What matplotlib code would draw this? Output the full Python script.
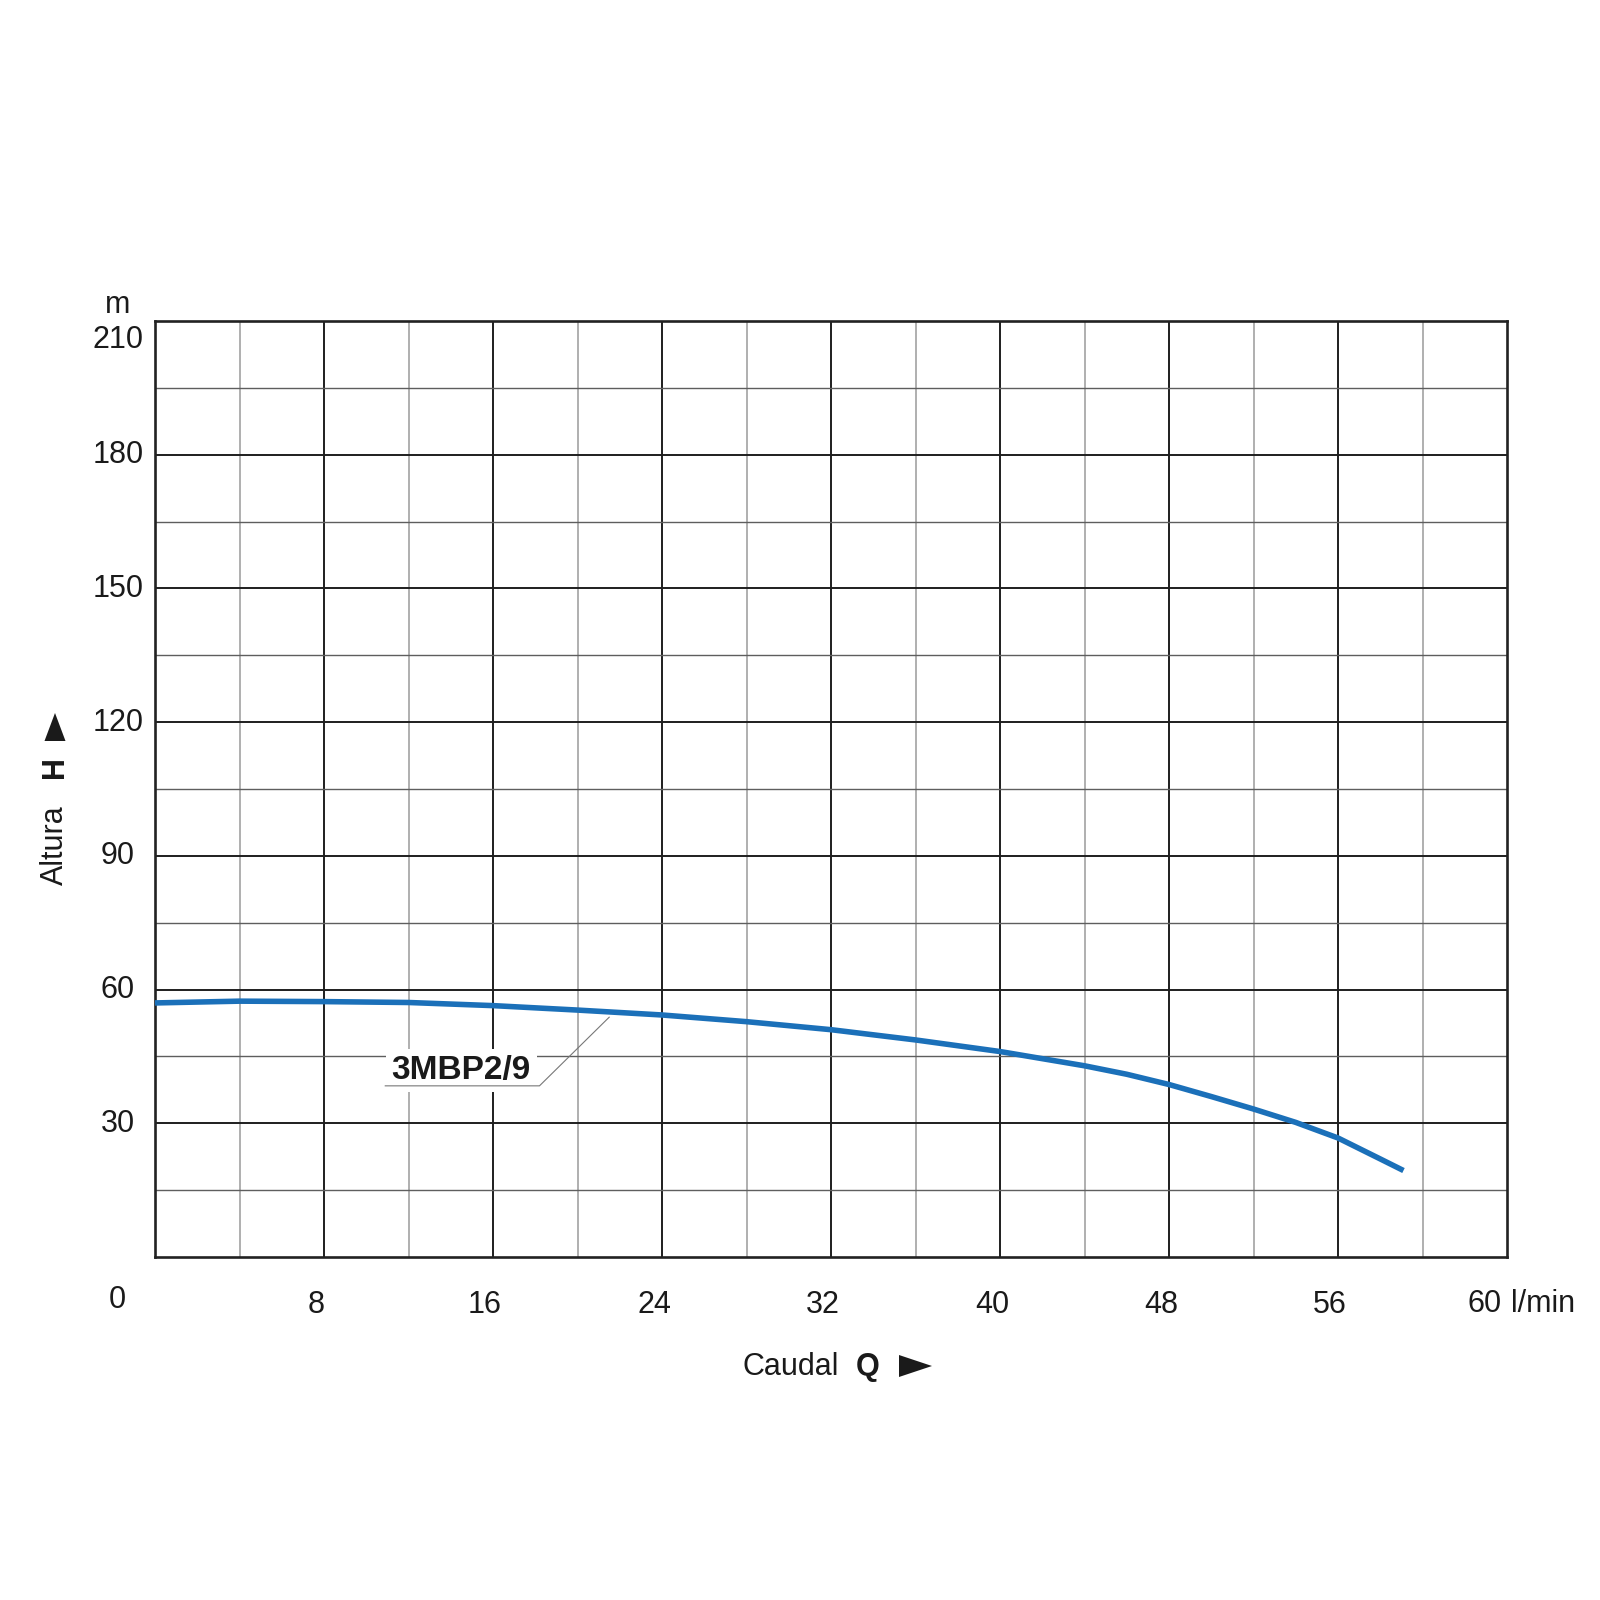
import matplotlib
matplotlib.use("Agg")
import matplotlib.pyplot as plt
from matplotlib.patches import Polygon
from matplotlib.transforms import ScaledTranslation

# ---- data ----
flow_q = [0, 4, 8, 12, 16, 20, 24, 28, 32, 36, 40, 44, 46, 48, 50, 52, 54, 56, 58, 59.1]
head_h = [57.0, 57.4, 57.3, 57.1, 56.4, 55.4, 54.3, 52.8, 51.0, 48.7, 46.1, 42.9, 41.0,
          38.7, 36.0, 33.2, 30.2, 26.7, 22.0, 19.4]
curve_name = "3MBP2/9"

x_ticks = [8, 16, 24, 32, 40, 48, 56]
x_tick_labels = ["8", "16", "24", "32", "40", "48", "56"]
x_end_label = "60"
x_unit = "l/min"
y_ticks = [30, 60, 90, 120, 150, 180, 210]
y_tick_labels = ["30", "60", "90", "120", "150", "180", "210"]
y_unit = "m"
origin_label = "0"
x_title = "Caudal"
x_symbol = "Q"
y_title = "Altura"
y_symbol = "H"

# ---- figure ----
W = H = 1600
DPI = 100
plt.rcParams['font.family'] = ['Liberation Sans', 'DejaVu Sans']
fig = plt.figure(figsize=(W / DPI, H / DPI), dpi=DPI)

def fx(px):
    return px / W

def fy(py):
    return 1 - py / H

ax = fig.add_axes([fx(155), fy(1257), (1507 - 155) / W, (1257 - 321) / H])
ax.set_xlim(0, 64)
ax.set_ylim(0, 210)

# grid
for xv in range(4, 64, 4):
    major = xv % 8 == 0
    ax.axvline(xv, color='#1e1e1e' if major else '#9a9a9a',
               lw=1.4 if major else 1.1, zorder=1)
for yv in range(15, 210, 15):
    major = yv % 30 == 0
    ax.axhline(yv, color='#1e1e1e' if major else '#5e5e5e',
               lw=1.4 if major else 1.0, zorder=1)

for sp in ax.spines.values():
    sp.set_linewidth(1.9)
    sp.set_color('#222222')

ax.plot(flow_q, head_h, color='#1b70b9', lw=4.0, solid_capstyle='butt',
        solid_joinstyle='round', zorder=3)

# ticks
FS = 22
ax.set_xticks(x_ticks)
ax.set_xticklabels(x_tick_labels, fontsize=FS, color='#1a1a1a')
ax.set_yticks(y_ticks)
ax.set_yticklabels(y_tick_labels, fontsize=FS, color='#1a1a1a')
ax.tick_params(axis='both', length=0)
ax.tick_params(axis='x', pad=24)
ax.tick_params(axis='y', pad=26.6)
for lab in ax.get_xticklabels():
    lab.set_transform(lab.get_transform() + ScaledTranslation(-8 / DPI, 0, fig.dpi_scale_trans))
for lab in ax.get_yticklabels():
    lab.set_horizontalalignment('center')
    dy = -15 if lab.get_text() == "210" else 3
    lab.set_transform(lab.get_transform() + ScaledTranslation(0, dy / DPI, fig.dpi_scale_trans))

# extra axis texts
fig.text(fx(117), fy(1300), origin_label, fontsize=FS, ha='center', va='center', color='#1a1a1a')
fig.text(fx(1485), fy(1304), x_end_label, fontsize=FS, ha='center', va='center', color='#1a1a1a')
fig.text(fx(1511), fy(1304), x_unit, fontsize=FS, ha='left', va='center', color='#1a1a1a')
fig.text(fx(118), fy(305), y_unit, fontsize=FS, ha='center', va='center', color='#1a1a1a')

# x title
fig.text(fx(743), fy(1367), x_title, fontsize=FS, ha='left', va='center', color='#1a1a1a')
fig.text(fx(868), fy(1367), x_symbol, fontsize=FS, ha='center', va='center',
         fontweight='bold', color='#1a1a1a')
fig.add_artist(Polygon([[fx(899), fy(1355)], [fx(899), fy(1377)], [fx(932), fy(1366)]],
                       closed=True, transform=fig.transFigure, color='#1a1a1a', lw=0))

# y title
fig.text(fx(55), fy(845), y_title, fontsize=FS, ha='center', va='center', rotation=90,
         color='#1a1a1a')
fig.text(fx(55), fy(767), y_symbol, fontsize=FS, ha='center', va='center', rotation=90,
         fontweight='bold', color='#1a1a1a')
fig.add_artist(Polygon([[fx(44.5), fy(741)], [fx(65.5), fy(741)], [fx(55), fy(713)]],
                       closed=True, transform=fig.transFigure, color='#1a1a1a', lw=0))

# curve label with leader
ax.text(14.5, 39.9, curve_name, fontsize=24, fontweight='bold', ha='center', va='baseline',
        color='#1a1a1a', zorder=4,
        bbox=dict(facecolor='white', edgecolor='none', pad=4))
ax.plot([10.9, 18.2, 21.5], [38.4, 38.4, 53.8], color='#777777', lw=0.8, zorder=5)

fig.savefig("out.png", dpi=DPI, facecolor='white')
